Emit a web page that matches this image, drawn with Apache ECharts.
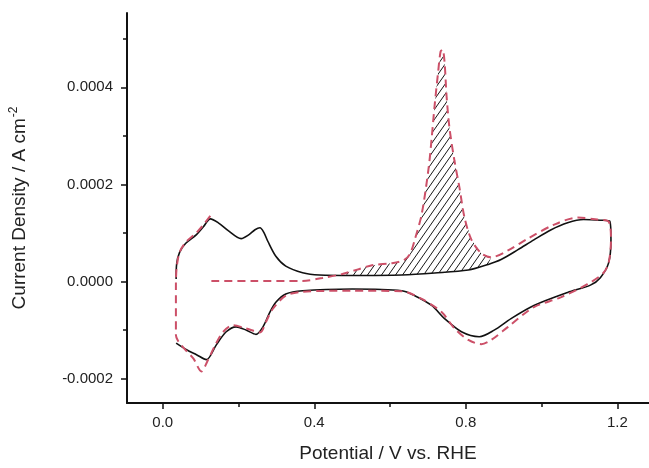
<!DOCTYPE html>
<html>
<head>
<meta charset="utf-8">
<script src="https://cdn.jsdelivr.net/npm/echarts@6/dist/echarts.min.js"></script>
<style>html,body{margin:0;padding:0;background:#fff}#c{width:649px;height:468px}</style>
</head>
<body>
<div id="c"></div>
<script>
// Solid (blank CV): upper branch left->right, then lower branch right->left
const potentialSolid = [0.0354,0.0367,0.0445,0.0602,0.0891,0.1074,0.1257,0.1467,0.1729,0.2069,0.2279,0.2436,0.2567,0.2672,0.2777,0.2986,0.3248,0.3693,0.4139,0.5003,0.6313,0.7177,0.8068,0.8592,0.8932,0.9378,0.9797,1.0242,1.0688,1.1107,1.1552,1.1801,
  1.1832,1.1770,1.1552,1.1290,1.0688,0.9797,0.9194,0.8749,0.8356,0.7885,0.7439,0.7099,0.6654,0.6313,0.5003,0.3693,0.3248,0.2986,0.2829,0.2646,0.2462,0.2200,0.1938,0.1676,0.1415,0.1153,0.0891,0.0629,0.0354];
const currentSolid = [0.0000055,0.0000359,0.0000602,0.0000784,0.0000967,0.0001129,0.0001291,0.0001210,0.0001048,0.0000885,0.0000967,0.0001068,0.0001108,0.0001007,0.0000825,0.0000521,0.0000318,0.0000182,0.0000136,0.0000126,0.0000136,0.0000176,0.0000237,0.0000353,0.0000454,0.0000657,0.0000859,0.0001062,0.0001210,0.0001277,0.0001264,0.0001244,
  0.0000859,0.0000385,0.0000081,-0.0000073,-0.0000223,-0.0000492,-0.0000762,-0.0000999,-0.0001135,-0.0001033,-0.0000762,-0.0000492,-0.0000290,-0.0000188,-0.0000154,-0.0000188,-0.0000255,-0.0000426,-0.0000628,-0.0000932,-0.0001086,-0.0000999,-0.0000932,-0.0001033,-0.0001303,-0.0001607,-0.0001506,-0.0001404,-0.0001268];

// Dashed (CO stripping scan starting at 0.13 V)
const potentialDashed = [0.1284,0.2384,0.3693,0.4217,0.4741,0.5134,0.5527,0.6051,0.6365,0.6523,0.6654,0.6837,0.7020,0.7099,0.7177,0.7269,0.7335,0.7387,0.7440,0.7492,0.7570,0.7701,0.7832,0.7963,0.8147,0.8409,0.8670,0.9116,0.9640,1.0321,1.0950,1.1473,1.1775,
  1.1832,1.1770,1.1631,1.1211,1.0504,0.9797,0.9116,0.8670,0.8409,0.8068,0.7701,0.7361,0.6837,0.6313,0.5003,0.3693,0.3248,0.2908,0.2724,0.2567,0.2200,0.1860,0.1598,0.1388,0.1179,0.1022,0.0812,0.0576,0.0406,0.0348,0.0348,0.0367,0.0445,0.0602,0.0891,0.1074,0.1257];
const currentDashed = [0.0000014,0.0000014,0.0000014,0.0000075,0.0000156,0.0000247,0.0000338,0.0000379,0.0000440,0.0000561,0.0000865,0.0001392,0.0002345,0.0002952,0.0003621,0.0004310,0.0004736,0.0004776,0.0004513,0.0003824,0.0003155,0.0002487,0.0001939,0.0001331,0.0000865,0.0000582,0.0000500,0.0000642,0.0000885,0.0001169,0.0001317,0.0001277,0.0001230,
  0.0000859,0.0000385,0.0000176,-0.0000053,-0.0000324,-0.0000527,-0.0000932,-0.0001202,-0.0001289,-0.0001202,-0.0000965,-0.0000628,-0.0000357,-0.0000199,-0.0000188,-0.0000209,-0.0000290,-0.0000559,-0.0000831,-0.0001046,-0.0000965,-0.0000898,-0.0001033,-0.0001303,-0.0001641,-0.0001850,-0.0001587,-0.0001384,-0.0001222,-0.0001100,-0.0000087,0.0000278,0.0000602,0.0000804,0.0001007,0.0001169,0.0001352];

// Axis ticks / labels
const xMajorTicks = [0.0, 0.4, 0.8, 1.2];
const xMinorTicks = [0.2, 0.6, 1.0];
const yMajorTicks = [-0.0002, 0.0, 0.0002, 0.0004];
const yMinorTicks = [-0.0001, 0.0001, 0.0003, 0.0005];
// Integrated (hatched) CO-oxidation region, potential range
const hatchRange = [0.47, 0.87];

const zip = (a, b) => a.map((v, i) => [v, b[i]]);
const solidData = zip(potentialSolid, currentSolid);
const dashedData = zip(potentialDashed, currentDashed);

function anodicInRange(vs, js, lo, hi) {
  let iMax = 0;
  vs.forEach((v, i) => { if (v > vs[iMax]) iMax = i; });
  const out = [];
  for (let i = 0; i <= iMax; i++) if (vs[i] >= lo && vs[i] <= hi) out.push([vs[i], js[i]]);
  return out;
}
const hatchTop = anodicInRange(potentialDashed, currentDashed, hatchRange[0], hatchRange[1]);
const hatchBottom = anodicInRange(potentialSolid, currentSolid, hatchRange[0], hatchRange[1]);

// hatch pattern (steep diagonal lines)
const PW = 7, PH = 10;
const pc = document.createElement('canvas');
pc.width = PW; pc.height = PH;
const g = pc.getContext('2d');
g.strokeStyle = 'rgba(10,10,10,0.95)';
g.lineWidth = 1;
g.beginPath();
for (let k = -1; k <= 1; k++) {
  g.moveTo(k * PW, PH); g.lineTo(k * PW + PW, 0);
}
g.stroke();

const FONT = 'Liberation Sans, Arial, sans-serif';
const X_MIN = -0.0943, X_MAX = 1.2836, Y_MIN = -0.00025, Y_MAX = 0.000553;

const chart = echarts.init(document.getElementById('c'), null, {renderer: 'canvas'});
chart.setOption({
  backgroundColor: '#ffffff',
  animation: false,
  grid: {left: 123, right: 0, top: 13, bottom: 59, containLabel: false},
  xAxis: [{
    type: 'value', position: 'bottom', min: X_MIN, max: X_MAX,
    name: 'Potential / V vs. RHE', nameLocation: 'middle', nameGap: 41,
    nameTextStyle: {fontFamily: FONT, fontSize: 19, color: '#222'},
    axisLine: {show: true, onZero: false, lineStyle: {color: '#111', width: 2}},
    axisTick: {show: true, customValues: xMajorTicks, length: 6, lineStyle: {color: '#111', width: 1.5}},
    axisLabel: {show: true, customValues: xMajorTicks, margin: 12, fontFamily: FONT, fontSize: 15, color: '#222',
      formatter: v => v.toFixed(1)},
    splitLine: {show: false}
  }, {
    type: 'value', position: 'bottom', min: X_MIN, max: X_MAX,
    axisLine: {show: false, onZero: false},
    axisTick: {show: true, customValues: xMinorTicks, length: 4, lineStyle: {color: '#111', width: 1.5}},
    axisLabel: {show: false},
    splitLine: {show: false}
  }],
  yAxis: [{
    type: 'value', position: 'left', min: Y_MIN, max: Y_MAX,
    name: '{n|Current Density / A cm}{s|-2}', nameLocation: 'middle', nameGap: 96, nameRotate: 90,
    nameTextStyle: {fontFamily: FONT, color: '#222',
      rich: {n: {fontFamily: FONT, fontSize: 19, color: '#222'},
             s: {fontFamily: FONT, fontSize: 12, color: '#222', verticalAlign: 'top', padding: [0, 0, 11, 1]}}},
    axisLine: {show: true, onZero: false, lineStyle: {color: '#111', width: 2}},
    axisTick: {show: true, customValues: yMajorTicks, length: 6, lineStyle: {color: '#111', width: 1.5}},
    axisLabel: {show: true, customValues: yMajorTicks, margin: 14, fontFamily: FONT, fontSize: 15, color: '#222',
      formatter: v => (Math.abs(v) < 1e-12 ? 0 : v).toFixed(4)},
    splitLine: {show: false}
  }, {
    type: 'value', position: 'left', min: Y_MIN, max: Y_MAX,
    axisLine: {show: false, onZero: false},
    axisTick: {show: true, customValues: yMinorTicks, length: 4, lineStyle: {color: '#111', width: 1.5}},
    axisLabel: {show: false},
    splitLine: {show: false}
  }],
  series: [{
    type: 'custom', xAxisIndex: 0, yAxisIndex: 0, z: 1, silent: true,
    data: [[hatchRange[0], 0]],
    renderItem: function (params, api) {
      const pts = hatchTop.map(p => api.coord(p)).concat(hatchBottom.slice().reverse().map(p => api.coord(p)));
      return {type: 'polygon', shape: {points: pts}, style: {fill: {image: pc, repeat: 'repeat'}, stroke: null}};
    }
  }, {
    type: 'line', xAxisIndex: 0, yAxisIndex: 0, z: 3, data: solidData,
    showSymbol: false, smooth: 0.3, lineStyle: {color: '#111', width: 1.6}
  }, {
    type: 'line', xAxisIndex: 0, yAxisIndex: 0, z: 4, data: dashedData,
    showSymbol: false, smooth: 0.3, lineStyle: {color: '#cc5068', width: 2, type: [8, 5]}
  }]
});
</script>
</body>
</html>
